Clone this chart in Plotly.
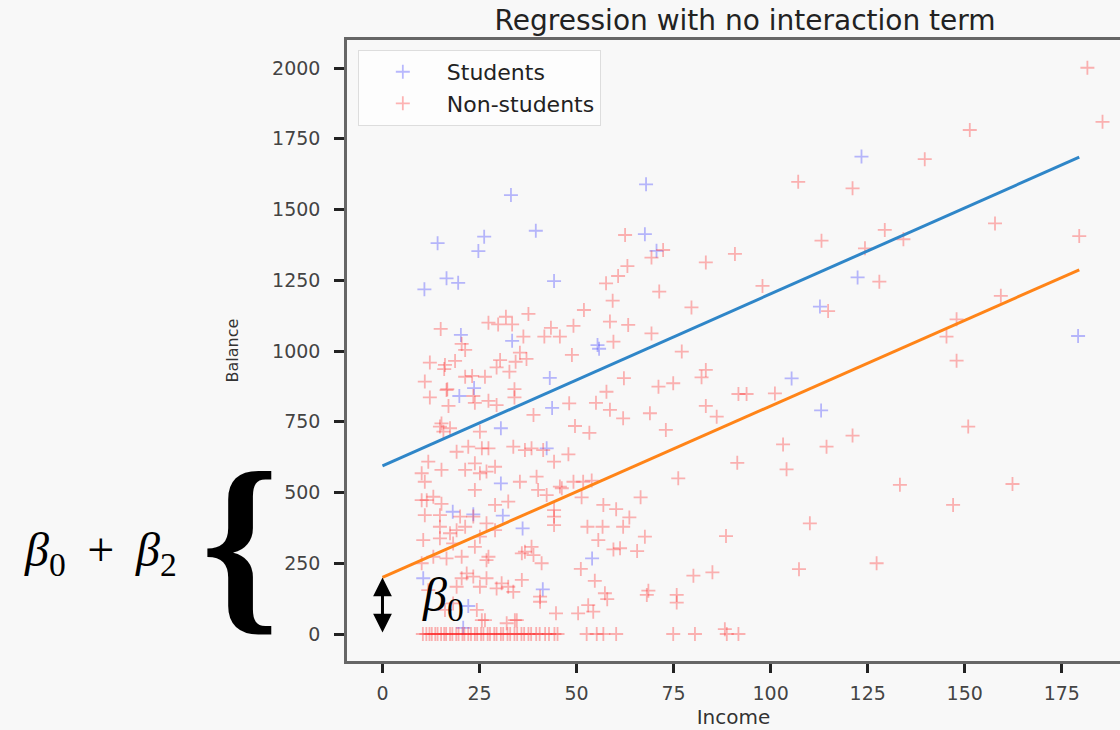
import plotly.graph_objects as go

# ---------------- data ----------------
students_income = [14.2, 26.2, 24.7, 33.1, 39.5, 10.8, 16.5, 19.5, 44.2, 20.2, 33.4, 23.6, 19.8,
                   43.1, 43.7, 67.9, 67.6, 70.6, 55.4, 55.8, 123.4, 122.4, 112.7, 179.2, 105.4, 113.0,
                   30.5, 42.3, 30.5, 18.1, 23.4, 31.0, 36.1, 54.0, 41.3, 10.5, 22.1, 20.8]
students_balance = [1381, 1404, 1353, 1551, 1425, 1218, 1257, 1241, 1247, 1057, 1036, 869, 841,
                    905, 799, 1589, 1413, 1354, 1021, 1008, 1687, 1260, 1157, 1053, 903, 790,
                    727, 656, 532, 432, 423, 418, 373, 267, 158, 197, 99, 22]

nonstudents_income = [
    62.5, 72.3, 69.3, 63.1, 60.7, 57.6, 83.3, 90.8, 71.3, 59.3, 51.9, 79.6, 58.6, 63.3, 49.2, 69.3, 59.5, 45.7,
    37.6, 31.8, 27.3, 29.8, 33.4, 43.4, 41.7, 36.3, 15.0, 20.4, 21.3, 35.4, 37.1, 34.3, 30.3, 29.4, 32.7, 12.2,
    16.1, 18.7, 15.9, 10.9, 21.3, 23.1, 26.4, 16.7, 12.2, 23.4, 23.8, 17.0, 27.3, 34.0, 34.0,
    48.8, 77.1, 83.3, 82.2, 62.2, 71.1, 74.9, 57.7, 48.1, 55.0, 58.6, 83.3, 68.9,
    181.6, 185.5, 151.3, 139.7, 107.1, 121.1, 157.8, 179.5, 129.4, 113.1, 134.2, 124.3, 97.9, 128.0, 114.8,
    159.3, 147.9, 145.3, 147.9, 91.7, 93.8, 101.1, 86.1, 150.9, 103.2, 114.4, 121.1, 91.4, 104.1, 133.3,
    162.3, 147.0, 110.1, 88.5, 127.3, 107.3, 88.2, 91.7,
    16.5, 29.4, 38.9, 62.0, 49.6, 53.3, 73.0, 47.9, 44.2, 76.2, 51.7, 53.9, 46.2, 51.3, 66.5, 56.9, 60.2, 63.6,
    44.2, 44.2, 44.2, 52.8, 56.7, 62.0, 67.6, 55.6, 59.5, 61.2, 65.6, 51.1, 54.7, 80.1, 85.0, 57.3, 57.9, 68.5,
    68.1, 75.8, 75.8, 44.7, 50.4, 53.0, 54.3,
    41.4, 38.4, 36.7, 33.7, 27.3, 25.6, 22.1, 19.1, 14.8, 15.7, 17.4, 11.8, 10.1, 10.9, 15.2, 21.3, 25.1, 26.8,
    29.0, 23.8, 35.4, 39.7, 40.1, 42.3, 45.7, 49.2,
    40.6, 35.9, 26.8, 26.8, 29.4, 32.4, 33.7, 25.1, 23.4, 21.7, 20.4, 19.1, 18.2, 24.3, 25.6, 32.0, 34.6, 36.7,
    25.1, 26.8, 23.4, 20.0, 14.8, 13.1, 11.4, 10.1, 10.9, 10.5, 14.8, 17.4, 19.1, 14.8, 20.4, 16.5, 13.1, 10.1,
    15.2, 25.1, 23.8, 29.0, 32.4, 29.0, 18.2, 23.8, 27.3, 30.7, 38.4, 41.0, 38.9, 35.9, 16.1, 34.1, 26.4, 40.6,
    11.8, 21.3, 15.2,
    # zero-balance row
    10.4, 11.3, 12.1, 12.7, 13.6, 14.2, 15.1, 15.9, 16.4, 17.4, 18.0, 19.0, 19.6, 20.6, 21.1, 22.1, 22.8, 23.8,
    24.4, 25.4, 26.0, 27.1, 27.7, 28.8, 29.4, 30.5, 31.1, 32.2, 32.9, 34.0, 34.7, 35.8, 36.5, 37.6, 38.3, 39.6,
    40.5, 41.9, 42.9, 44.3, 45.1, 52.6, 55.2, 56.9, 60.2, 74.9, 80.5, 88.7
]
nonstudents_balance = [
    1410, 1357, 1330, 1300, 1265, 1239, 1313, 1343, 1210, 1178, 1145, 1154, 1104, 1092, 1089, 1062, 1033, 1051,
    1131, 1121, 1100, 1094, 1094, 1082, 1051, 1051, 1078, 1025, 1004, 994, 972, 962, 968, 942, 927, 959,
    951, 965, 936, 892, 909, 912, 909, 865, 836, 841, 817, 806, 824, 865, 836,
    986, 998, 933, 907, 904, 874, 886, 856, 815, 817, 792, 806, 780,
    2001, 1810, 1781, 1678, 1598, 1575, 1451, 1406, 1428, 1390, 1395, 1363, 1230, 1245, 1141,
    1195, 1112, 1051, 966, 848, 848, 850, 768, 733, 670, 662, 701, 605, 582, 527,
    530, 456, 391, 346, 250, 229, 17, 0,
    862, 809, 774, 762, 735, 711, 721, 635, 609, 550, 538, 542, 515, 483, 483, 456, 441, 412,
    438, 415, 385, 379, 379, 379, 344, 332, 299, 303, 293, 230, 188, 206, 218, 144, 123, 153,
    138, 138, 111, 73, 73, 102, 79,
    650, 656, 650, 662, 656, 656, 662, 644, 733, 715, 727, 609, 568, 538, 580, 580, 568, 574,
    591, 603, 538, 556, 509, 491, 521, 538,
    132, 191, 261, 197, 161, 167, 149, 167, 203, 214, 197, 167, 108, 85, 49, 38, 49, 291,
    344, 391, 415, 415, 420, 485, 473, 473, 420, 332, 338, 356, 367, 379, 273, 267, 273, 250,
    744, 715, 509, 456, 468, 367, 320, 308, 273, 179, 308, 250, 279, 285, 85, 49, 49, 114,
    155, 379, 460,
    0, 0, 0, 0, 0, 0, 0, 0, 0, 0, 0, 0, 0, 0, 0, 0, 0, 0,
    0, 0, 0, 0, 0, 0, 0, 0, 0, 0, 0, 0, 0, 0, 0, 0, 0, 0,
    0, 0, 0, 0, 0, 0, 0, 0, 0, 0, 0, 0
]

# fitted lines (read at both ends from the picture)
line_income = [0, 179.5]
students_fit = [594, 1685]
nonstudents_fit = [200, 1287]

# intercept arrow (beta_0)
arrow_income = 0
arrow_low, arrow_high = 0, 200

x_ticks = [0, 25, 50, 75, 100, 125, 150, 175]
y_ticks = [0, 250, 500, 750, 1000, 1250, 1500, 1750, 2000]

BG = "#f8f8f8"
AXFONT = "DejaVu Sans"
GLOW = "0px 0px 3px #ffffff"

fig = go.Figure()
fig.add_trace(go.Scatter(
    x=students_income, y=students_balance, mode="markers", name="Students",
    marker=dict(symbol="cross-thin", size=10, line=dict(width=1.8, color="rgba(40,40,255,0.32)"))))
fig.add_trace(go.Scatter(
    x=nonstudents_income, y=nonstudents_balance, mode="markers", name="Non-students",
    marker=dict(symbol="cross-thin", size=10, line=dict(width=1.8, color="rgba(255,30,30,0.33)"))))
fig.add_trace(go.Scatter(x=line_income, y=students_fit, mode="lines", showlegend=False,
                         line=dict(color="#2f86c8", width=3)))
fig.add_trace(go.Scatter(x=line_income, y=nonstudents_fit, mode="lines", showlegend=False,
                         line=dict(color="#ff8418", width=3)))

fig.update_layout(
    width=1120, height=730,
    margin=dict(l=347, r=0, t=40, b=69),
    paper_bgcolor=BG, plot_bgcolor=BG,
    font=dict(family=AXFONT, color="#333"),
    title=dict(text="Regression with no interaction term", x=0.515, xref="paper", xanchor="center",
               y=0.972, yref="container", yanchor="middle",
               font=dict(family=AXFONT, size=28, color="#222")),
    legend=dict(x=0.014, y=0.984, xanchor="left", yanchor="top",
                bgcolor="#fdfdfd", bordercolor="#dddddd", borderwidth=1,
                font=dict(family=AXFONT, size=22, color="#222"), itemwidth=78,
                tracegroupgap=4),
    xaxis=dict(range=[-9.14, 190.0], tickvals=x_ticks, ticks="outside", ticklen=9, tickwidth=3,
               tickcolor="#222", showgrid=False, zeroline=False, showline=True, linecolor="#666",
               linewidth=2.5, mirror=True, ticklabelstandoff=4,
               tickfont=dict(family=AXFONT, size=19, color="#444", shadow=GLOW),
               title=dict(text="Income", font=dict(family=AXFONT, size=20, color="#333", shadow=GLOW),
                          standoff=8)),
    yaxis=dict(range=[-95.4, 2099], tickvals=y_ticks, ticks="outside", ticklen=10, tickwidth=3,
               tickcolor="#222", showgrid=False, zeroline=False, showline=True, linecolor="#666",
               linewidth=2.5, mirror=False, ticklabelstandoff=10,
               tickfont=dict(family=AXFONT, size=19, color="#444", shadow=GLOW),
               title=dict(text="Balance", font=dict(family=AXFONT, size=16, color="#333", shadow=GLOW),
                          standoff=30)),
)

MATH = "Liberation Serif"
fig.add_annotation(x=arrow_income, y=arrow_high, ax=arrow_income, ay=arrow_low, xref="x", yref="y",
                   axref="x", ayref="y", showarrow=True, arrowhead=2, arrowside="end+start",
                   arrowwidth=3, arrowsize=1.25, arrowcolor="#000", text="")
fig.add_annotation(x=-0.421, y=0.122, xref="paper", yref="paper", showarrow=False,
                   text="<i>β</i><sub>0</sub> &#8201;+&#8201; <i>β</i><sub>2</sub>",
                   font=dict(family=MATH, size=48, color="#000"))
fig.add_annotation(x=-0.192, y=0.013, xref="paper", yref="paper", showarrow=False,
                   text="<b>{</b>", font=dict(family=MATH, size=198, color="#000"))
fig.add_annotation(x=0.094, y=0.050, xref="paper", yref="paper", showarrow=False,
                   text="<i>β</i><sub>0</sub>", font=dict(family=MATH, size=48, color="#000"))

fig.write_html("out.html")
